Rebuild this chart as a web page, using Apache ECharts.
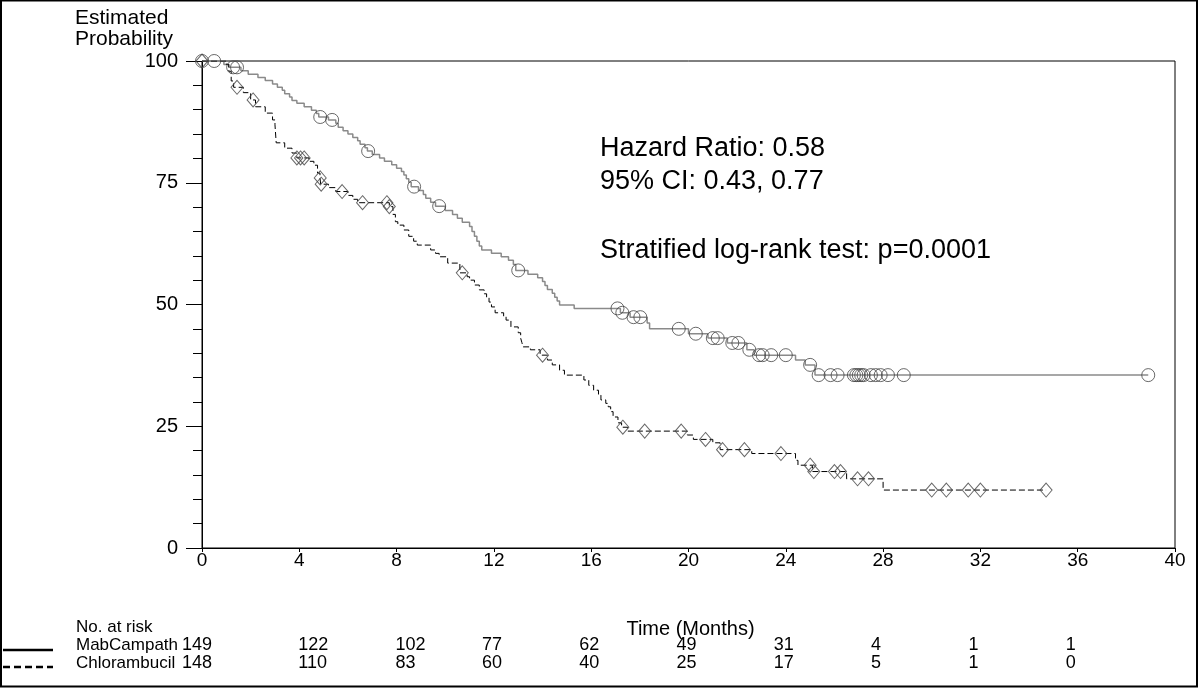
<!DOCTYPE html>
<html><head><meta charset="utf-8">
<script src="https://cdn.jsdelivr.net/npm/echarts/dist/echarts.min.js"></script>
<style>html,body{margin:0;padding:0;background:#fff}#c{width:1199px;height:688px}</style>
</head><body><div id="c"></div>
<script>
// ---------- data ----------
const xTickStep = 4;
const yTickStep = 25;
const groupNames = ['MabCampath', 'Chlorambucil'];

// Kaplan-Meier steps [time (months), estimated probability (%)]
const mabSteps = [
  [0,100],[0.9,99.3],[1.1,98.7],[1.6,98.0],[1.9,97.3],[2.3,96.6],[2.6,96.0],[2.9,95.3],[3.1,94.6],
  [3.3,94.0],[3.4,93.3],[3.6,92.6],[3.7,91.9],[3.9,91.3],[4.2,90.6],[4.5,89.9],[4.7,89.2],[4.8,88.5],
  [5.2,87.9],[5.5,87.2],[5.6,86.4],[5.8,85.7],[6.0,85.0],[6.2,84.3],[6.4,83.6],[6.5,82.9],[6.7,82.2],
  [6.8,81.5],[7.0,80.8],[7.3,80.1],[7.5,79.4],[7.8,78.7],[8.0,78.0],[8.2,77.3],[8.3,76.6],[8.4,75.8],
  [8.5,75.1],[8.6,74.2],[8.9,73.4],[9.1,72.6],[9.2,71.8],[9.4,71.0],[9.6,70.2],[10.0,69.3],[10.3,68.5],
  [10.5,67.7],[10.7,66.9],[11.0,66.0],[11.1,65.0],[11.2,64.0],[11.3,63.0],[11.4,62.0],[11.5,61.2],
  [11.9,60.5],[12.3,59.8],[12.6,59.1],[12.8,58.2],[12.9,57.0],[13.4,56.2],[13.8,55.5],[14.0,54.7],
  [14.1,53.9],[14.2,53.1],[14.4,52.3],[14.5,51.5],[14.6,50.7],[14.7,49.9],[15.3,49.2],[17.2,48.3],
  [17.6,47.4],[18.3,46.2],[18.4,45.0],[20.0,44.0],[20.8,43.1],[21.6,42.1],[22.4,40.7],[22.7,39.6],
  [24.4,38.6],[24.8,37.6],[25.2,35.5],[38.9,35.5]
];
const mabCensor = [
  [0,100],[0.5,100],[1.28,98.7],[1.44,98.7],[4.86,88.5],[5.35,87.9],[6.83,81.5],[8.72,74.2],[9.75,70.2],
  [13.0,57.0],[17.08,49.2],[17.28,48.3],[17.74,47.4],[18.02,47.4],[19.6,45.0],[20.3,44.0],[21.0,43.1],
  [21.2,43.1],[21.8,42.1],[22.05,42.1],[22.5,40.7],[22.9,39.6],[23.05,39.6],[23.4,39.6],[24.0,39.6],
  [25.0,37.6],[25.35,35.5],[25.84,35.5],[26.13,35.5],[26.8,35.5],[26.9,35.5],[27.0,35.5],[27.1,35.5],
  [27.2,35.5],[27.5,35.5],[27.7,35.5],[27.9,35.5],[28.2,35.5],[28.85,35.5],[38.9,35.5]
];
const chlSteps = [
  [0,100],[1.0,99.3],[1.1,97.9],[1.2,95.9],[1.3,94.6],[1.7,93.5],[2.0,92.0],[2.2,90.6],[2.6,89.3],
  [2.9,87.9],[3.0,86.9],[3.05,83.2],[3.4,82.1],[3.7,81.1],[3.9,80.1],[4.4,79.4],[4.6,78.6],[4.75,77.0],
  [4.85,76.0],[4.88,74.7],[5.2,74.0],[5.5,73.2],[6.0,72.4],[6.2,71.6],[6.4,70.9],[7.7,70.1],[7.85,68.5],
  [7.95,67.0],[8.05,66.3],[8.3,65.3],[8.5,64.0],[8.7,63.0],[8.85,62.2],[9.4,61.2],[9.6,60.5],[9.75,59.8],
  [10.1,58.5],[10.6,56.5],[10.9,55.7],[11.0,55.0],[11.2,54.0],[11.4,53.0],[11.6,52.2],[11.7,51.5],
  [11.8,50.5],[11.9,49.5],[12.05,48.3],[12.4,47.5],[12.5,46.8],[12.7,45.4],[13.0,44.2],[13.1,43.1],
  [13.15,42.2],[13.2,41.3],[13.5,40.7],[13.9,39.6],[14.2,38.6],[14.4,37.6],[14.7,36.5],[14.9,35.5],
  [15.7,34.5],[15.9,33.4],[16.1,32.4],[16.3,31.4],[16.4,30.4],[16.6,29.7],[16.7,29.0],[16.8,28.0],
  [16.9,26.9],[17.1,25.7],[17.25,24.8],[17.5,24.0],[19.95,23.2],[20.2,22.3],[21.0,21.6],[21.3,20.2],
  [22.6,19.4],[24.4,18.0],[24.5,17.0],[25.1,15.7],[26.5,14.2],[28.0,11.9],[34.7,11.9]
];
const chlCensor = [
  [0,100],[1.44,94.6],[2.1,92.0],[3.9,80.1],[4.05,80.1],[4.2,80.1],[4.86,76.0],[4.9,74.7],[5.76,73.2],
  [6.6,70.9],[7.6,70.9],[7.7,70.1],[10.7,56.5],[14.0,39.6],[17.3,24.8],[18.2,24.0],[19.7,24.0],
  [20.7,22.3],[21.4,20.2],[22.3,20.2],[23.8,19.4],[25.0,17.0],[25.15,15.7],[26.0,15.7],[26.25,15.7],
  [26.95,14.2],[27.4,14.2],[30.0,11.9],[30.6,11.9],[31.5,11.9],[32.0,11.9],[34.7,11.9]
];

const riskTimes = [0,4,8,12,16,20,24,28,32,36];
const riskMab = [149,122,102,77,62,49,31,4,1,1];
const riskChl = [148,110,83,60,40,25,17,5,1,0];
const annotationLines = ['Hazard Ratio: 0.58', '95% CI: 0.43, 0.77', 'Stratified log-rank test: p=0.0001'];

// ---------- chart ----------
const FONT = 'Liberation Sans, Arial, sans-serif';
const chart = echarts.init(document.getElementById('c'), null, {renderer: 'canvas'});
const option = {
  animation: false,
  backgroundColor: '#fff',
  grid: {left: 202, top: 61, right: 24, bottom: 140, show: true, borderColor: '#000', borderWidth: 1, backgroundColor: 'transparent'},
  xAxis: {
    type: 'value', min: 0, max: 40, interval: xTickStep,
    name: 'Time (Months)', nameLocation: 'middle', nameGap: 71,
    nameTextStyle: {fontFamily: FONT, fontSize: 20, color: '#000', padding: [0, 0, 0, 4]},
    axisLine: {lineStyle: {color: '#000', width: 1}},
    axisTick: {show: true, inside: false, length: 4, lineStyle: {color: '#000'}},
    axisLabel: {fontFamily: FONT, fontSize: 19, color: '#000', margin: 3},
    splitLine: {show: false}
  },
  yAxis: {
    type: 'value', min: 0, max: 100, interval: yTickStep,
    axisLine: {show: true, lineStyle: {color: '#000', width: 1}},
    axisTick: {show: true, inside: false, length: 16, lineStyle: {color: '#000'}},
    minorTick: {show: true, splitNumber: 5, length: 9, lineStyle: {color: '#000'}},
    axisLabel: {fontFamily: FONT, fontSize: 20, color: '#000', margin: 24},
    splitLine: {show: false}
  },
  series: [
    {
      name: groupNames[0], type: 'line', step: 'end', data: mabSteps, symbol: 'none',
      lineStyle: {color: '#8a8a8a', width: 1.5}, z: 2
    },
    {
      name: groupNames[1], type: 'line', step: 'end', data: chlSteps, symbol: 'none',
      lineStyle: {color: '#000', width: 1, type: [6, 3]}, z: 3
    },
    {
      name: groupNames[0] + ' censored', type: 'scatter', data: mabCensor, symbol: 'circle', symbolSize: 13,
      itemStyle: {color: 'rgba(0,0,0,0)', borderColor: '#444', borderWidth: 1}, z: 4
    },
    {
      name: groupNames[1] + ' censored', type: 'scatter', data: chlCensor, symbol: 'diamond', symbolSize: [12, 14],
      itemStyle: {color: 'rgba(0,0,0,0)', borderColor: '#444', borderWidth: 1}, z: 4
    }
  ]
};
chart.setOption(option);

// text elements: axis title, annotations, risk table, legend lines, outer frame
const px = t => chart.convertToPixel({xAxisIndex: 0}, t);
const g = [];
g.push({type: 'rect', shape: {x: 1, y: 0.5, width: 1196, height: 686}, style: {fill: 'none', stroke: '#000', lineWidth: 2}, silent: true});
g.push({type: 'text', left: 75, top: 8, style: {text: 'Estimated', font: '21px ' + FONT, fill: '#000'}});
g.push({type: 'text', left: 75, top: 29, style: {text: 'Probability', font: '21px ' + FONT, fill: '#000'}});
const annY = [135, 168, 237];
annotationLines.forEach((s, i) => g.push({type: 'text', left: 600, top: annY[i], style: {text: s, font: '27px ' + FONT, fill: '#000'}}));
g.push({type: 'text', left: 76, top: 619, style: {text: 'No. at risk', font: '17px ' + FONT, fill: '#000'}});
const rowY = [637, 655];
[riskMab, riskChl].forEach((arr, r) => {
  g.push({type: 'text', left: 76, top: rowY[r], style: {text: groupNames[r], font: '17px ' + FONT, fill: '#000'}});
  arr.forEach((v, i) => {
    const x = i === 0 ? 182 : px(riskTimes[i]) + (i <= 2 ? -1 : -12);
    g.push({type: 'text', left: x, top: rowY[r] - 1, style: {text: String(v), font: '18px ' + FONT, fill: '#000'}});
  });
});
g.push({type: 'line', shape: {x1: 3, y1: 650, x2: 53, y2: 650}, style: {stroke: '#000', lineWidth: 2.5}});
g.push({type: 'line', shape: {x1: 3, y1: 667, x2: 53, y2: 667}, style: {stroke: '#000', lineWidth: 2.5, lineDash: [7, 4]}});
chart.setOption({graphic: g});
</script>
</body></html>
